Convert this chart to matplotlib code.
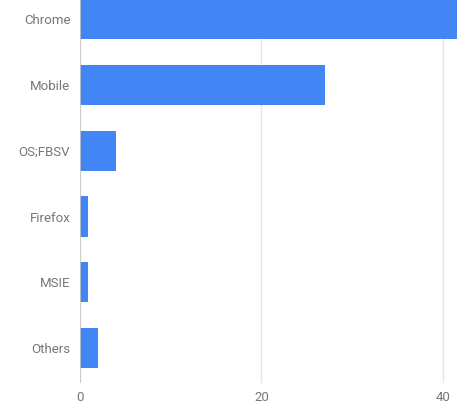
import numpy as np
import matplotlib
matplotlib.use("Agg")
import matplotlib.pyplot as plt

browsers = ["Chrome", "Mobile", "OS;FBSV", "Firefox", "MSIE", "Others"]
shares = [48, 27, 4, 0.9, 0.9, 2]
xticks = [0, 20, 40]

plt.rcParams['font.family'] = ['Roboto', 'DejaVu Sans']

fig = plt.figure(figsize=(4.57, 4.07), dpi=100)
# chart is cropped at top and right, so the axes run to the figure edges
ax = fig.add_axes([80/457, 24/407, 1 - 80/457, 383/407])

y = np.arange(len(browsers))
ax.barh(y, shares, height=0.61, color='#4285f4', zorder=3)

ax.set_xlim(0, 377/9.07)
ax.set_ylim(len(browsers) - 0.47, -0.29)
ax.set_yticks(y)
ax.set_yticklabels(browsers)
ax.set_xticks(xticks)

ax.grid(axis='x', color='#e6e6e6', linewidth=1, zorder=0)
ax.axvline(0, color='#c8c8c8', linewidth=1.2, zorder=4)
for s in ax.spines.values():
    s.set_visible(False)
ax.tick_params(length=0, colors='#777777', labelsize=9.5)
ax.tick_params(axis='y', pad=7)
ax.tick_params(axis='x', pad=6)

fig.savefig("out.png", dpi=100)
